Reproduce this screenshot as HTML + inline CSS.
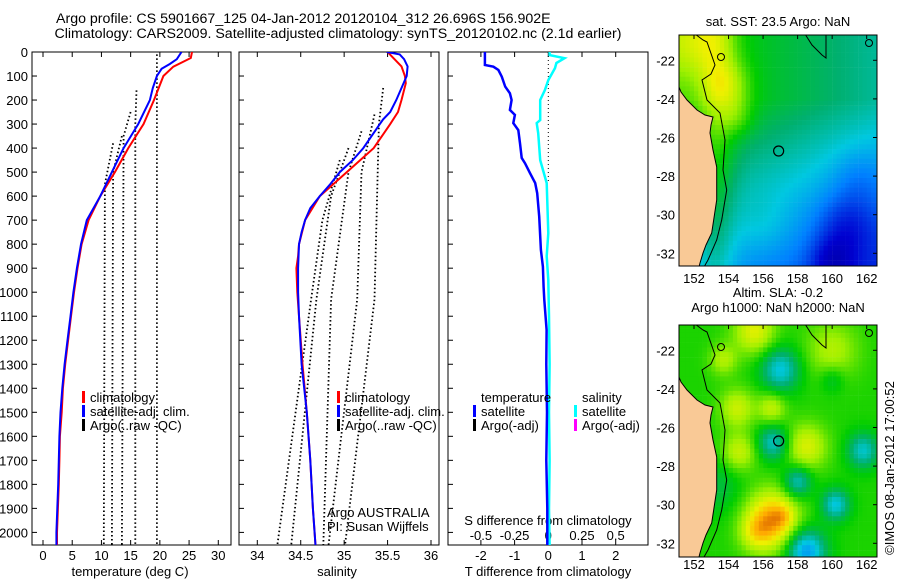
<!DOCTYPE html>
<html><head><meta charset="utf-8"><style>
html,body{margin:0;padding:0;background:#fff;}
svg{display:block;font-family:"Liberation Sans",sans-serif;}
</style></head><body>
<svg id="fig" width="900" height="580" viewBox="0 0 900 580" xmlns="http://www.w3.org/2000/svg">
<defs>
<clipPath id="c1"><rect x="679" y="35" width="198" height="231"/></clipPath>
<clipPath id="c2"><rect x="679" y="325" width="198" height="232"/></clipPath>
<clipPath id="cp1"><rect x="32" y="52" width="199" height="493"/></clipPath>
<clipPath id="cp2"><rect x="239" y="52" width="200" height="493"/></clipPath>
<clipPath id="cp3"><rect x="448" y="52" width="200" height="493"/></clipPath>
</defs>
<text x="56" y="23" font-size="14.2" text-anchor="start">Argo profile: CS 5901667_125 04-Jan-2012 20120104_312 26.696S 156.902E</text>
<text x="338" y="38" font-size="14.2" text-anchor="middle">Climatology: CARS2009. Satellite-adjusted climatology: synTS_20120102.nc (2.1d earlier)</text>
</svg>
<script>
// ---------- data ----------
const depthTicks=[0,100,200,300,400,500,600,700,800,900,1000,1100,1200,1300,1400,1500,1600,1700,1800,1900,2000];
const tempTicks=[0,5,10,15,20,25,30];
const salTicks=[34,34.5,35,35.5,36];
const tdiffTicks=[-2,-1,0,1,2];
const sdiffTicks=[-0.5,-0.25,0,0.25,0.5];
const lonTicks=[152,154,156,158,160,162];
const latTicks=[-22,-24,-26,-28,-30,-32];
const tClimDepth=[0,25,61,100,200,300,400,500,600,700,800,900,1000,1100,1200,1300,1400,1500,1600,1700,1800,1900,2000,2054];
const tClimVal=[25.5,25.3,22.3,20.6,19.0,17.2,14.6,12.3,9.8,7.8,6.6,5.9,5.3,4.8,4.3,3.8,3.4,3.2,2.9,2.8,2.7,2.55,2.4,2.4];
const tSatDepth=[0,30,50,70,100,150,200,300,400,500,600,700,800,900,1000,1100,1200,1300,1400,1500,1600,1700,1800,1900,2000,2054];
const tSatVal=[23.7,22.9,21.7,20.3,19.5,18.8,18.3,16.3,13.8,11.8,9.8,7.5,6.5,5.8,5.2,4.7,4.2,3.7,3.3,3.0,2.8,2.7,2.6,2.45,2.3,2.3];
const tArgo=[
 {d:[10,2054],v:[19.5,19.5]},
 {d:[160,300,2054],v:[16,15.8,15.8]},
 {d:[250,350,2054],v:[15,13.8,13.5]},
 {d:[350,500,2054],v:[13.5,12.0,11.8]},
 {d:[380,550,2054],v:[12,10.6,10.4]}];
const sClimDepth=[0,30,60,100,130,200,250,300,400,500,600,700,800,850,900,1000,1100,1300,1500,1700,1900,2000,2054];
const sClimVal=[35.5,35.58,35.66,35.7,35.71,35.66,35.62,35.53,35.34,35.03,34.72,34.55,34.48,34.47,34.45,34.46,34.48,34.52,34.57,34.61,34.64,34.66,34.67];
const sSatDepth=[0,10,30,60,100,150,200,250,280,300,400,450,500,550,600,650,700,750,800,900,1000,1100,1300,1500,1700,1900,2000,2054];
const sSatVal=[35.49,35.64,35.69,35.73,35.72,35.66,35.6,35.53,35.45,35.41,35.22,35.1,34.95,34.84,34.72,34.61,34.55,34.51,34.48,34.47,34.47,34.48,34.51,34.57,34.61,34.64,34.66,34.67];
const sArgo=[
 {d:[150,300,1030,2054],v:[35.45,35.4,35.35,35.01]},
 {d:[260,500,1030,2054],v:[35.35,35.2,35.15,34.82]},
 {d:[330,500,1030,2054],v:[35.2,35.05,34.85,34.76]},
 {d:[400,600,1030,2054],v:[35.05,34.85,34.68,34.39]},
 {d:[450,700,1030,2054],v:[34.95,34.75,34.62,34.23]}];
const dtDepth=[0,54,61,75,103,144,172,200,241,262,296,325,380,441,463,505,546,588,685,824,894,978,1032,1157,1300,1500,1700,1900,2054];
const dtVal=[-1.88,-1.88,-1.63,-1.48,-1.38,-1.28,-1.14,-1.09,-1.14,-0.99,-1.04,-0.89,-0.84,-0.79,-0.69,-0.54,-0.39,-0.33,-0.27,-0.22,-0.16,-0.14,-0.12,-0.05,-0.06,-0.04,-0.06,-0.03,-0.03];
const dsDepth=[0,13,26,46,67,117,158,200,283,296,338,450,546,754,850,950,1100,1300,1500,1700,1900,2054];
const dsVal=[0.01,0.01,0.12,0.06,0.05,0,-0.025,-0.06,-0.06,-0.086,-0.075,-0.06,-0.012,0,-0.012,0,0.005,0.01,0.005,0.01,0.005,0.01];
// map fields: [lon, lat, radius, amplitude]
const sstGrad=[0.62,-0.016,-0.032,0.1];  // base, per-deg-lon east, per-deg-lat south of 24S, coastal boost
const sstBlobs=[[152,-21,2.0,0.14],[154,-23.3,1.3,0.12],[154.5,-25,1.0,0.08],[160.8,-30.5,1.8,-0.12],[160,-32.5,1.3,-0.12],[161.5,-28,1.5,-0.06],[156,-30.5,1.5,0.04]];
const slaBlobs=[[155.5,-21,1.2,0.18],[154.5,-25,1,0.15],[156.5,-25,0.8,0.14],[154.6,-27.3,1,0.15],[158.5,-27,1.2,0.17],[160,-22,1.5,0.12],[153.7,-22.5,0.8,0.12],[156.5,-30.8,1.5,0.3],[155.5,-31.5,0.9,0.1],[157.2,-30.6,0.6,0.06],[157,-23,1.1,-0.22],[156.6,-26.8,0.9,-0.2],[158,-28.8,0.8,-0.2],[160.2,-30,0.8,-0.22],[158.5,-32.4,1.1,-0.3],[161.8,-27.2,0.9,-0.2],[160,-23.5,0.7,-0.08],[153.3,-29,1.5,-0.08]];
// ---------- helpers ----------
const svg=document.getElementById('fig');
const NS='http://www.w3.org/2000/svg';
function mk(tag,attrs,parent){const e=document.createElementNS(NS,tag);for(const k in attrs)e.setAttribute(k,attrs[k]);(parent||svg).appendChild(e);return e;}
const yD=d=>52+d*0.2402;
const xT=t=>43+t*5.843;
const xS=s=>257.3+(s-34)*86.85;
const xDT=t=>548.3+t*33.7;
const xDS=s=>548.3+s*134.8;
const mx=lon=>694+(lon-152)*17.27;
const my=(lat,off)=>60.3+off+(-22-lat)*19.3;
function line(xs,ys,color,w,dash,clip,name){
  const p=xs.map((x,i)=>x.toFixed(1)+','+ys[i].toFixed(1)).join(' ');
  const e=mk('polyline',{points:p,fill:'none',stroke:color,'stroke-width':w,'clip-path':'url(#'+clip+')'});
  if(dash)e.setAttribute('stroke-dasharray',dash);
  
  
  return e;
}
function txt(x,y,s,anchor,size,name){
  const e=mk('text',{x:x,y:y,'font-size':size||13,'text-anchor':anchor||'start'});
  e.textContent=s;
  
  
  return e;
}
// ---------- panels ----------
const panels=[[32,231,'cp1','temperature-panel'],[239,439,'cp2','salinity-panel'],[448,648,'cp3','difference-panel']];
panels.forEach(p=>{
  const r=mk('rect',{x:p[0],y:52,width:p[1]-p[0],height:493,fill:'none',stroke:'#000','stroke-width':1});
  
  
  depthTicks.forEach(d=>{const t=mk('line',{x1:p[0],x2:p[0]+5,y1:yD(d),y2:yD(d),stroke:'#000'});
    
    });
});
depthTicks.forEach(d=>{txt(28,yD(d)+5,String(d),'end',13,'depth-tick-label');});
tempTicks.forEach(t=>{const x=xT(t);mk('line',{x1:x,x2:x,y1:545,y2:540,stroke:'#000'});mk('line',{x1:x,x2:x,y1:52,y2:57,stroke:'#000'});txt(x,560,String(t),'middle',13,'temperature-tick-label');});
salTicks.forEach(s=>{const x=xS(s);mk('line',{x1:x,x2:x,y1:545,y2:540,stroke:'#000'});mk('line',{x1:x,x2:x,y1:52,y2:57,stroke:'#000'});txt(x,560,String(s),'middle',13,'salinity-tick-label');});
tdiffTicks.forEach(t=>{const x=xDT(t);mk('line',{x1:x,x2:x,y1:545,y2:540,stroke:'#000'});mk('line',{x1:x,x2:x,y1:52,y2:57,stroke:'#000'});txt(x,560,String(t),'middle',13,'tdiff-tick-label');});
sdiffTicks.forEach(s=>{txt(xDS(s),540,String(s),'middle',13,'sdiff-tick-label');});
txt(130,576,'temperature (deg C)','middle',13,'temperature-axis-title');
txt(337,576,'salinity','middle',13,'salinity-axis-title');
txt(548,576,'T difference from climatology','middle',13,'tdiff-axis-title');
txt(548,525,'S difference from climatology','middle',13,'sdiff-axis-title');
// temperature series
tArgo.forEach(a=>line(a.v.map(xT),a.d.map(yD),'#000',1.8,'1.5 2.5','cp1','argo-temperature-profile'));
line(tClimVal.map(xT),tClimDepth.map(yD),'#ff0000',2,null,'cp1','climatology-temperature-line');
line(tSatVal.map(xT),tSatDepth.map(yD),'#0000ff',2,null,'cp1','satellite-temperature-line');
// salinity series
sArgo.forEach(a=>line(a.v.map(xS),a.d.map(yD),'#000',1.8,'1.5 2.5','cp2','argo-salinity-profile'));
line(sClimVal.map(xS),sClimDepth.map(yD),'#ff0000',2,null,'cp2','climatology-salinity-line');
line(sSatVal.map(xS),sSatDepth.map(yD),'#0000ff',2,null,'cp2','satellite-salinity-line');
// difference series
line([xDT(0),xDT(0)],[yD(0),yD(546)],'#000',1,'1 3','cp3','zero-reference-line');
line(dsVal.map(xDS),dsDepth.map(yD),'#00ffff',2.5,null,'cp3','salinity-difference-line');
line(dtVal.map(xDT),dtDepth.map(yD),'#0000ff',2.5,null,'cp3','temperature-difference-line');
// legends
function legend(x,y,color,label,name){
  const m=mk('rect',{x:x-1,y:y-7,width:3,height:12,fill:color});
  
  
  txt(x+7,y+4,label,'start',13,name);
}
[83,338].forEach(x=>{
  legend(x,398,'#ff0000','climatology','legend-climatology');
  legend(x,412,'#0000ff','satellite-adj. clim.','legend-satellite-adj');
  legend(x,426,'#000000','Argo(..raw -QC)','legend-argo');
});
txt(327,517,'Argo AUSTRALIA','start',13,'argo-center-label');
txt(327,531,'PI: Susan Wijffels','start',13,'pi-label');
txt(481,402,'temperature','start',13,'legend-temperature-header');
legend(474,412,'#0000ff','satellite','legend-temperature-satellite');
legend(474,426,'#000000','Argo(-adj)','legend-temperature-argo');
txt(582,402,'salinity','start',13,'legend-salinity-header');
legend(575,412,'#00ffff','satellite','legend-salinity-satellite');
legend(575,426,'#ff00ff','Argo(-adj)','legend-salinity-argo');
// ---------- maps ----------
const stops=[[0,[0,0,128]],[0.15,[0,0,208]],[0.3,[0,128,255]],[0.42,[0,200,224]],[0.52,[0,176,110]],[0.62,[0,205,0]],[0.74,[160,240,0]],[0.84,[240,240,0]],[0.93,[255,170,0]],[1,[208,80,0]]];
function cmap(v){v=Math.max(0,Math.min(1,v));for(let i=1;i<stops.length;i++){if(v<=stops[i][0]){const a=stops[i-1],b=stops[i],f=(v-a[0])/(b[0]-a[0]);return 'rgb('+a[1].map((c,j)=>Math.round(c+(b[1][j]-c)*f)).join(',')+')';}}return 'rgb(208,80,0)';}
function blobSum(blobs,lon,lat){let v=0;blobs.forEach(b=>{const d2=((lon-b[0])**2+(lat-b[1])**2)/(b[2]*b[2]);v+=b[3]*Math.exp(-d2);});return v;}
function sstField(lon,lat){const g=sstGrad;return g[0]+g[1]*(lon-154)+g[2]*Math.max(0,-lat-24)+g[3]*Math.exp(-((lon-153.3)**2)/1.2)+blobSum(sstBlobs,lon,lat);}
function slaField(lon,lat){return 0.64+blobSum(slaBlobs,lon,lat);}
const landPts=[[679,87],[681,92],[687,100],[697,110],[705,115],[713,117],[711,125],[710,133],[713,150],[716.7,167],[716.7,200],[711.7,233],[706,245],[703,253],[700,263],[699,267],[679,267]];
const shelfPts=[[695,34],[703,40],[707,42],[715,65],[711,74],[702,80],[707,100],[720,113],[725,140],[723,170],[726.7,190],[721.7,220],[716.7,240],[708,260],[704,267]];
function drawMap(off,fn,clip,name,title1,title2){
  const g=mk('g',{'clip-path':'url(#'+clip+')'});
  
  
  for(let lon=151.0;lon<162.7;lon+=0.25){for(let lat=-20.6;lat>-32.8;lat-=0.25){
    const v=fn(lon+0.125,lat-0.125);
    mk('rect',{x:mx(lon).toFixed(1),y:my(lat,off).toFixed(1),width:4.6,height:5.1,fill:cmap(v)},g);
  }}
  const land=mk('polygon',{points:landPts.map(p=>p[0]+','+(p[1]+off)).join(' '),fill:'#f9c996',stroke:'#000','stroke-width':1},g);
  
  
  const sh=mk('polyline',{points:shelfPts.map(p=>p[0]+','+(p[1]+off)).join(' '),fill:'none',stroke:'#000','stroke-width':1},g);
  
  
  mk('polyline',{points:'805,'+(34+off)+' 812,'+(45+off)+' 822,'+(55+off)+' 826,'+(58+off)+' 826,'+(34+off),fill:'none',stroke:'#000'},g);
  mk('circle',{cx:721,cy:57+off,r:3.5,fill:'none',stroke:'#000'},g);
  mk('circle',{cx:869,cy:43+off,r:3.5,fill:'none',stroke:'#000'},g);
  const c=mk('circle',{cx:mx(156.9),cy:my(-26.7,off),r:5,fill:'none',stroke:'#000','stroke-width':1.2});
  
  
  const fr=mk('rect',{x:679,y:35+off,width:198,height:(off?232:231),fill:'none',stroke:'#000','stroke-width':1});
  
  
  lonTicks.forEach(l=>{const x=mx(l);mk('line',{x1:x,x2:x,y1:35+off,y2:39+off,stroke:'#000'});txt(x,(off?569:283),String(l),'middle',13,'longitude-tick-label');});
  latTicks.forEach(l=>{const y=my(l,off);mk('line',{x1:873,x2:877,y1:y,y2:y,stroke:'#000'});txt(675,y+5,String(l),'end',13,'latitude-tick-label');});
  txt(778,off?297:26,title1,'middle',13,name+'-title');
  if(title2)txt(778,312,title2,'middle',13,name+'-subtitle');
}
drawMap(0,sstField,'c1','sst-map','sat. SST: 23.5 Argo: NaN');
drawMap(290,slaField,'c2','sla-map','Altim. SLA: -0.2','Argo h1000: NaN h2000: NaN');
const cr=txt(0,0,'\u00A9IMOS 08-Jan-2012 17:00:52','middle',13,'copyright-timestamp');
cr.setAttribute('transform','translate(894,468) rotate(-90)');
</script>
</body></html>
